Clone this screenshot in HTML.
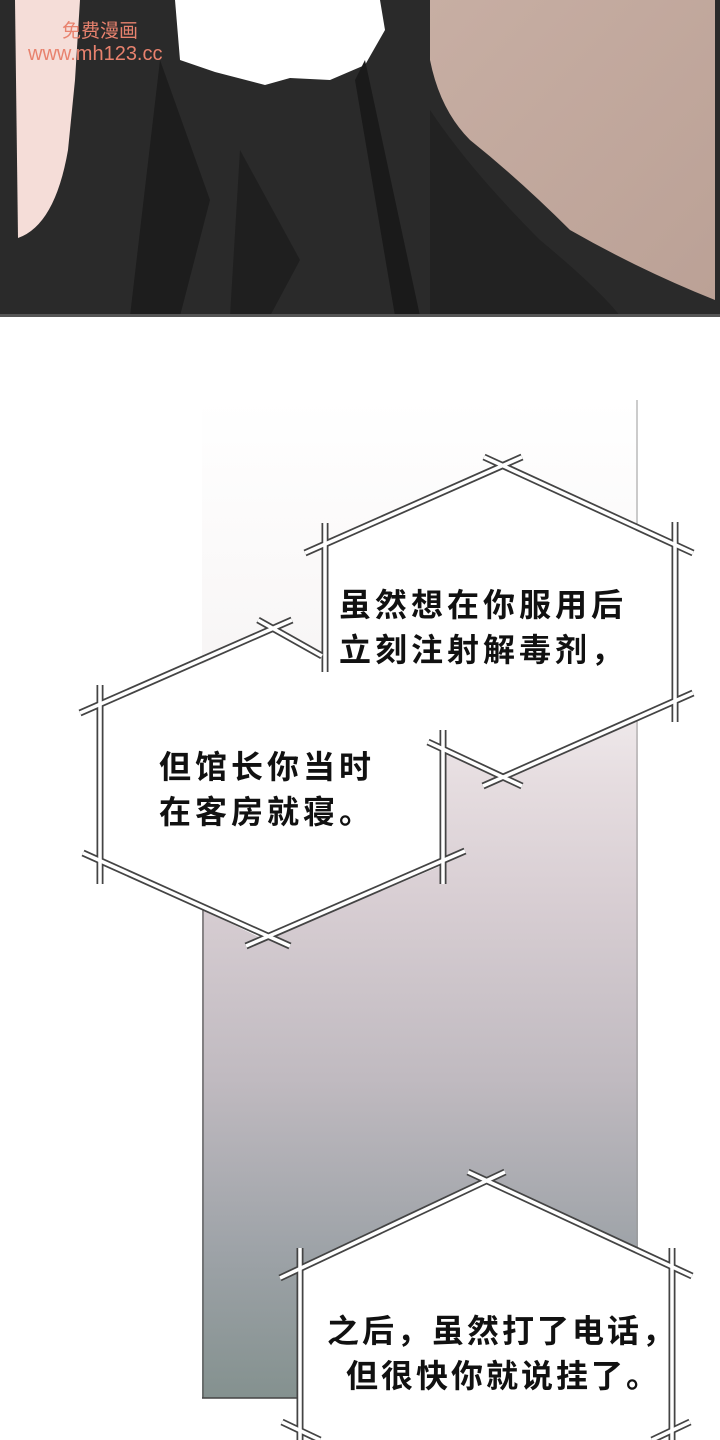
<!DOCTYPE html>
<html><head><meta charset="utf-8"><style>
html,body{margin:0;padding:0;background:#fff;}
body{width:720px;height:1440px;overflow:hidden;position:relative;font-family:"Liberation Sans","Noto Sans CJK SC",sans-serif;}
.t{position:absolute;font-size:32px;font-weight:bold;letter-spacing:4px;line-height:45px;color:#111;font-family:"Liberation Sans","Noto Sans CJK SC",sans-serif;white-space:nowrap;}
</style></head><body>
<svg width="720" height="1440" style="position:absolute;left:0;top:0">
<defs>
<linearGradient id="g" x1="0" y1="0" x2="0" y2="1">
<stop offset="0" stop-color="#ffffff"/>
<stop offset="0.25" stop-color="#f8f6f6"/>
<stop offset="0.38" stop-color="#e6dde0"/>
<stop offset="0.5" stop-color="#d8ced3"/>
<stop offset="0.68" stop-color="#c0bac0"/>
<stop offset="0.85" stop-color="#9ea3a8"/>
<stop offset="1" stop-color="#84918f"/>
</linearGradient>
<linearGradient id="sk" x1="0" y1="0" x2="1" y2="1">
<stop offset="0" stop-color="#c7aea3"/><stop offset="1" stop-color="#bba196"/>
</linearGradient>
</defs>
<rect x="0" y="0" width="720" height="316" fill="#2a2a2a"/>
<path d="M15,0 L80,0 L75,80 L68,150 Q55,225 18,238 Z" fill="#f5ddd8"/>
<path d="M175,0 L380,0 L385,30 L365,65 L330,80 L290,78 L265,85 L215,72 L180,60 Z" fill="#fff"/>
<path d="M430,0 L715,0 L715,300 Q640,270 570,230 Q520,180 470,140 Q440,110 430,60 Z" fill="url(#sk)"/>
<path d="M430,110 Q470,170 540,240 Q600,290 620,316 L430,316 Z" fill="#222"/>
<path d="M160,60 L210,200 L180,316 L130,316 Z" fill="#1d1d1d"/>
<path d="M240,150 L300,260 L270,316 L230,316 Z" fill="#1f1f1f"/>
<path d="M365,60 L420,316 L395,316 L355,80 Z" fill="#1a1a1a"/>
<rect x="0" y="314" width="720" height="3" fill="#555"/>
<text x="62" y="37" font-size="19" fill="#e8826e" font-family="Liberation Sans,Noto Sans CJK SC,sans-serif">免费漫画</text>
<text x="28" y="60" font-size="20" fill="#e8826e" font-family="Liberation Sans,sans-serif">www.mh123.cc</text>
<rect x="202" y="400" width="436" height="998" fill="url(#g)"/>
<line x1="203" y1="900" x2="203" y2="1398" stroke="#555" stroke-width="1.2"/>
<line x1="637" y1="400" x2="637" y2="1398" stroke="#999" stroke-width="1"/>
<line x1="202" y1="1398" x2="638" y2="1398" stroke="#444" stroke-width="1.5"/>
<polygon points="503,465 675,545 675,705 503,775 325,705 325,545" fill="#fff"/>
<polygon points="275,630 443,715 443,865 265,940 100,860 100,712" fill="#fff"/>
<polygon points="485,1180 672,1265 672,1440 300,1440 300,1265" fill="#fff"/>
<g fill="none" stroke-linecap="butt">
<g stroke="#444" stroke-width="7">
<line x1="305" y1="553" x2="522" y2="457"/><line x1="484" y1="457" x2="693" y2="553"/>
<line x1="675" y1="522" x2="675" y2="722"/><line x1="325" y1="523" x2="325" y2="672"/>
<line x1="693" y1="693" x2="483" y2="786"/><line x1="428" y1="742" x2="522" y2="786"/>
<line x1="80" y1="713" x2="292" y2="620"/><line x1="258" y1="620" x2="322" y2="656"/>
<line x1="100" y1="685" x2="100" y2="884"/><line x1="443" y1="730" x2="443" y2="884"/>
<line x1="83" y1="853" x2="290" y2="946"/><line x1="246" y1="946" x2="465" y2="851"/>
<line x1="280" y1="1278" x2="505" y2="1172"/><line x1="468" y1="1172" x2="692" y2="1276"/>
<line x1="300" y1="1248" x2="300" y2="1440"/><line x1="672" y1="1248" x2="672" y2="1440"/>
<line x1="282" y1="1422" x2="320" y2="1440"/><line x1="690" y1="1422" x2="652" y2="1440"/>
</g>
<g stroke="#fff" stroke-width="3.5">
<line x1="305" y1="553" x2="522" y2="457"/><line x1="484" y1="457" x2="693" y2="553"/>
<line x1="675" y1="522" x2="675" y2="722"/><line x1="325" y1="523" x2="325" y2="672"/>
<line x1="693" y1="693" x2="483" y2="786"/><line x1="428" y1="742" x2="522" y2="786"/>
<line x1="80" y1="713" x2="292" y2="620"/><line x1="258" y1="620" x2="322" y2="656"/>
<line x1="100" y1="685" x2="100" y2="884"/><line x1="443" y1="730" x2="443" y2="884"/>
<line x1="83" y1="853" x2="290" y2="946"/><line x1="246" y1="946" x2="465" y2="851"/>
<line x1="280" y1="1278" x2="505" y2="1172"/><line x1="468" y1="1172" x2="692" y2="1276"/>
<line x1="300" y1="1248" x2="300" y2="1440"/><line x1="672" y1="1248" x2="672" y2="1440"/>
<line x1="282" y1="1422" x2="320" y2="1440"/><line x1="690" y1="1422" x2="652" y2="1440"/>
</g>
</g>
</svg>
<div class="t" style="left:339px;top:583px;">虽然想在你服用后<br>立刻注射解毒剂，</div>
<div class="t" style="left:159px;top:745px;">但馆长你当时<br>在客房就寝。</div>
<div class="t" style="left:327px;top:1309px;letter-spacing:3px;">之后，虽然打了电话，</div>
<div class="t" style="left:346px;top:1354px;letter-spacing:3px;">但很快你就说挂了。</div>
</body></html>
